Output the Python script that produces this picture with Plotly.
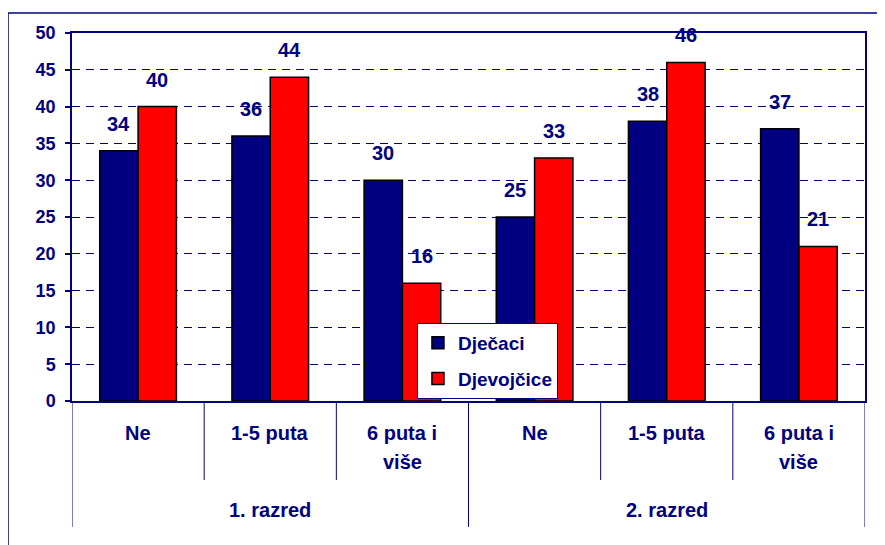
import plotly.graph_objects as go

categories = ["Ne", "1-5 puta", "6 puta i<br>više", "Ne", "1-5 puta", "6 puta i<br>više"]
groups = ["1. razred", "2. razred"]
dj_values = [34, 36, 30, 25, 38, 37]
dv_values = [40, 44, 16, 33, 46, 21]
series_names = ["Dječaci", "Djevojčice"]
y_ticks = [0, 5, 10, 15, 20, 25, 30, 35, 40, 45, 50]

NAVY = "#000080"
RED = "#FF0000"
FONT = "Liberation Sans, Arial, sans-serif"
BARGAP = 0.42

xs = list(range(len(categories)))
fig = go.Figure()
fig.add_trace(go.Bar(x=xs, y=dj_values, name=series_names[0], marker=dict(color=NAVY, line=dict(color="black", width=1.5)), legendgroup="a"))
fig.add_trace(go.Bar(x=xs, y=dv_values, name=series_names[1], marker=dict(color=RED, line=dict(color="black", width=1.5)), legendgroup="b"))

half = (1 - BARGAP) / 4
annotations = []
for i, (a, b) in enumerate(zip(dj_values, dv_values)):
    for xv, v in ((i - half, a), (i + half, b)):
        annotations.append(dict(x=xv, y=v, xref="x", yref="y", text=str(v), showarrow=False,
                                yanchor="middle", yshift=27,
                                font=dict(family=FONT, size=20, color=NAVY, weight="bold")))

# category labels
for i, c in enumerate(categories):
    lines = c.split("<br>")
    for j, ln in enumerate(lines):
        annotations.append(dict(x=i, y=0, xref="x", yref="paper", text=ln, showarrow=False,
                                yanchor="middle", yshift=-32 - 29 * j,
                                font=dict(family=FONT, size=20, color=NAVY, weight="bold")))
per_group = len(categories) // len(groups)
for g, name in enumerate(groups):
    annotations.append(dict(x=g * per_group + (per_group - 1) / 2, y=0, xref="x", yref="paper", text=name,
                            showarrow=False, yanchor="middle", yshift=-109,
                            font=dict(family=FONT, size=20, color=NAVY, weight="bold")))

shapes = []
for k in range(len(categories) + 1):
    xv = k - 0.5
    length = 126 if k % per_group == 0 else 79
    shapes.append(dict(type="line", xref="x", yref="paper", ysizemode="pixel", yanchor=0,
                       x0=xv, x1=xv, y0=0, y1=-length, line=dict(color=NAVY, width=1)))
# outer chart border
shapes.append(dict(type="rect", xref="paper", yref="paper", x0=-0.0807, x1=1.1, y0=-0.5, y1=1.0543,
                   line=dict(color=NAVY, width=1.5), layer="below"))

fig.update_layout(
    width=877, height=537,
    margin=dict(l=64, r=20, t=25, b=144),
    paper_bgcolor="white", plot_bgcolor="white",
    barmode="group", bargap=BARGAP, bargroupgap=0,
    font=dict(family=FONT, color=NAVY),
    showlegend=True,
    legend=dict(x=0.435, y=0.212, xanchor="left", yanchor="top",
                bgcolor="white", bordercolor=NAVY, borderwidth=1,
                font=dict(family=FONT, size=19, color=NAVY, weight="bold"),
                traceorder="grouped", tracegroupgap=8),
    annotations=annotations, shapes=shapes,
)
fig.update_xaxes(range=[-0.5, len(categories) - 0.5], showticklabels=False, ticks="",
                 showgrid=False, zeroline=False, showline=True, mirror=True,
                 linecolor=NAVY, linewidth=1.5)
fig.update_yaxes(range=[0, 50], tickvals=y_ticks, ticks="outside", ticklen=5, tickcolor=NAVY,
                 tickwidth=1.5, showline=True, mirror=True, linecolor=NAVY, linewidth=1.5,
                 showgrid=True, gridcolor=NAVY, gridwidth=1, griddash="8px,6px", zeroline=False,
                 tickfont=dict(family=FONT, size=18, color=NAVY, weight="bold"), ticklabelstandoff=6)

fig.write_html("out.html")
